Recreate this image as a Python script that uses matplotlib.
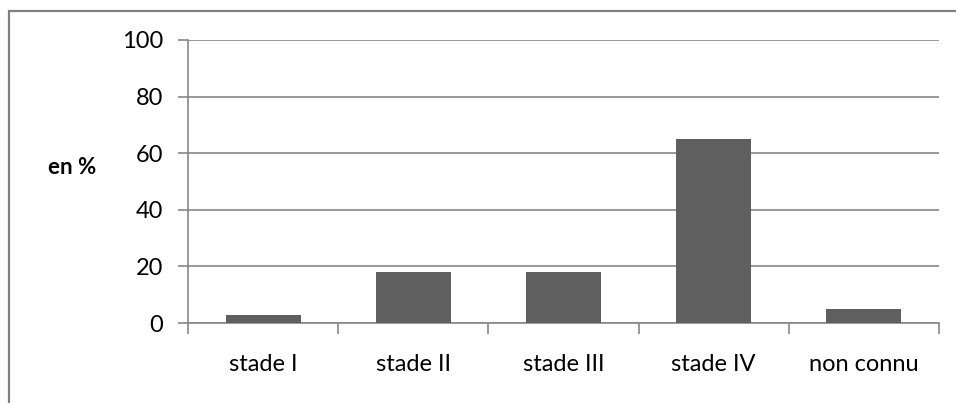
import matplotlib.pyplot as plt
from matplotlib.patches import Rectangle

categories = ['stade I', 'stade II', 'stade III', 'stade IV', 'non connu']
values = [3, 18, 18, 65, 5]
y_ticks = [0, 20, 40, 60, 80, 100]

plt.rcParams['font.family'] = ['Lato', 'DejaVu Sans']

W, H = 956, 403
fig = plt.figure(figsize=(W / 100, H / 100), dpi=100)
ax = fig.add_axes([188 / W, (H - 323) / H, (939 - 188) / W, (323 - 40) / H])

grid_col = '#878787'
x = range(len(categories))
ax.bar(x, values, width=0.5, color='#5f5f5f', zorder=3)

ax.set_xlim(-0.5, len(categories) - 0.5)
ax.set_ylim(0, 100)
ax.set_yticks(y_ticks)
ax.set_xticks([i - 0.5 for i in range(len(categories) + 1)], minor=False)
ax.set_xticklabels([])
ax.set_xticks(list(x), minor=True)
ax.set_xticklabels(categories, minor=True, fontsize=17)
ax.tick_params(axis='x', which='minor', length=0, pad=22)
ax.tick_params(axis='x', which='major', length=8, color=grid_col, width=1.2)
ax.tick_params(axis='y', length=7, color=grid_col, width=1.2, labelsize=17, pad=11)

ax.grid(axis='y', color=grid_col, linewidth=1.2, zorder=0)
for side in ['top', 'right']:
    ax.spines[side].set_visible(False)
for side in ['left', 'bottom']:
    ax.spines[side].set_color(grid_col)
    ax.spines[side].set_linewidth(1.2)

fig.text(72 / W, 1 - 167 / H, 'en %', fontsize=16, fontweight='bold',
         ha='center', va='center')

# outer chart border: only its left and top edges fall inside the image
border = Rectangle((8.5, -20), 1000, H - 10.5 + 20, transform=None,
                   fill=False, edgecolor='#808080', linewidth=1.6, zorder=10)
fig.patches.append(border)

fig.savefig('out.png', dpi=100)
